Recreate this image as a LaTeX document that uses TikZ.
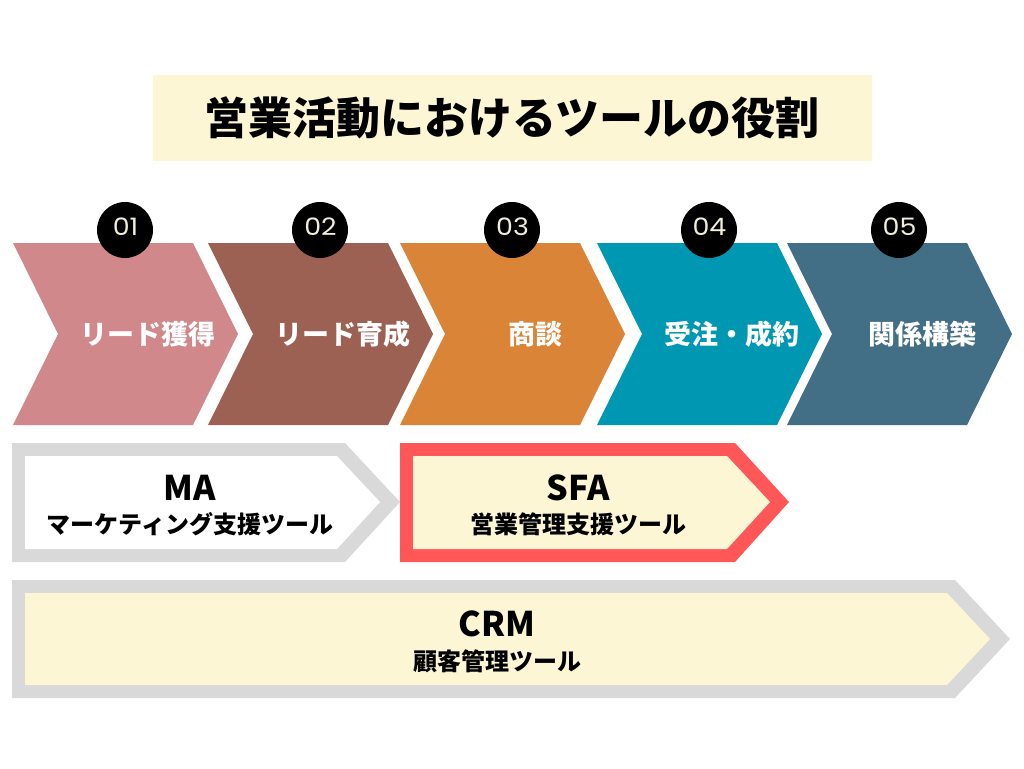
\documentclass[tikz,border=0pt]{standalone}
\usepackage{fontspec}
\newfontfamily\jp{Noto Sans CJK JP}
\newfontfamily\numf[FakeStretch=1.12]{Poppins}
\definecolor{cA}{HTML}{D1888B}
\definecolor{cB}{HTML}{9C6152}
\definecolor{cC}{HTML}{DA8438}
\definecolor{cD}{HTML}{0097B2}
\definecolor{cE}{HTML}{436F86}
\definecolor{cream}{HTML}{FDF6D5}
\definecolor{numcol}{HTML}{F2EEDC}
\definecolor{lgray}{HTML}{D9D9D9}
\definecolor{sfared}{HTML}{FF5757}
\tikzset{
  steptext/.style={font=\jp\bfseries\fontsize{27}{27}\selectfont, text=white, inner sep=0pt},
  numdot/.style={circle, fill=black, minimum size=56pt, inner sep=0pt},
  numtext/.style={inner sep=0pt, text=numcol, font=\numf\fontsize{24}{24}\selectfont},
  toolname/.style={font=\jp\bfseries\fontsize{34}{34}\selectfont, inner sep=0pt},
  tooldesc/.style={font=\jp\bfseries\fontsize{24}{24}\selectfont, inner sep=0pt},
}
\begin{document}
\begin{tikzpicture}[x=1pt,y=-1pt]
\useasboundingbox (0,0) rectangle (1024,768);
\fill[white] (0,0) rectangle (1024,768);
% title
\fill[cream] (153,75) rectangle (872,161);
\node[font=\jp\bfseries\fontsize{44}{44}\selectfont, inner sep=0pt] (title) at (512,118) {営業活動におけるツールの役割};
% process chevrons
\foreach \l/\c/\t/\n/\k in {13/cA/リード獲得/01/a, 208/cB/リード育成/02/b, 400/cC/商談/03/c, 597/cD/受注・成約/04/d, 787/cE/関係構築/05/e}{
  \fill[\c] (\l,243) -- ({\l+180},243) -- ({\l+225},334) -- ({\l+180},425) -- (\l,425) -- ({\l+45},334) -- cycle;
  \node[steptext] (step\k) at ({\l+135},334) {\t};
  \node[numdot] (num\k) at ({\l+112},230) {};
  \node[numtext] (numlabel\k) at ({\l+112.5},226.5) {\n};
}
% MA
\fill[lgray] (12,443) -- (345,443) -- (400,502) -- (345,562) -- (12,562) -- cycle;
\fill[white] (25,456) -- (337,456) -- (380,502) -- (337,549) -- (25,549) -- cycle;
\node[toolname] (ma) at (190,488) {MA};
\node[tooldesc] (madesc) at (190,524) {マーケティング支援ツール};
% SFA
\fill[sfared] (400,443) -- (735,443) -- (789,502) -- (735,562) -- (400,562) -- cycle;
\fill[cream] (413,456) -- (727,456) -- (770,502) -- (727,549) -- (413,549) -- cycle;
\node[toolname] (sfa) at (578,488) {SFA};
\node[tooldesc] (sfadesc) at (578,524) {営業管理支援ツール};
% CRM
\fill[lgray] (12,580) -- (955,580) -- (1010,639) -- (955,698) -- (12,698) -- cycle;
\fill[cream] (25,593) -- (947,593) -- (990,639) -- (947,685) -- (25,685) -- cycle;
\node[toolname] (crm) at (497,624) {CRM};
\node[tooldesc] (crmdesc) at (497,661) {顧客管理ツール};
\end{tikzpicture}
\end{document}
